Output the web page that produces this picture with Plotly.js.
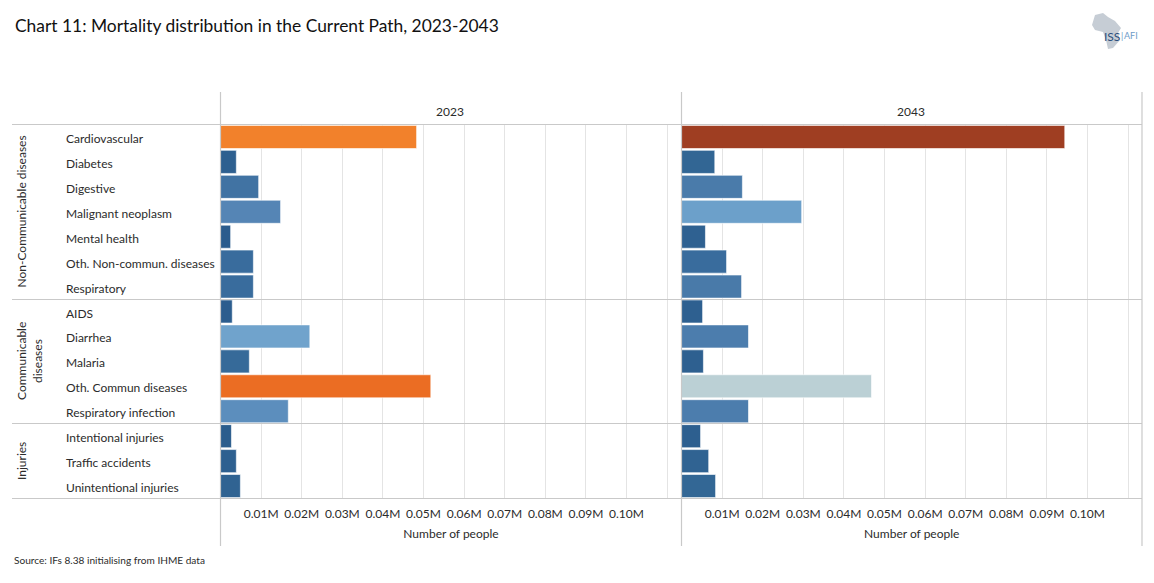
<!DOCTYPE html>
<html>
<head>
<meta charset="utf-8">
<script src="https://cdn.plot.ly/plotly-3.0.1.min.js"></script>
<style>html,body{margin:0;padding:0;background:#fff}#c{width:1154px;height:583px}</style>
</head>
<body>
<div id="c"></div>
<script>
const categories = ["Cardiovascular","Diabetes","Digestive","Malignant neoplasm","Mental health","Oth. Non-commun. diseases","Respiratory","AIDS","Diarrhea","Malaria","Oth. Commun diseases","Respiratory infection","Intentional injuries","Traffic accidents","Unintentional injuries"];
const values2023 = [0.0483,0.0039,0.0094,0.0148,0.0025,0.0081,0.0081,0.0029,0.0220,0.0071,0.0518,0.0167,0.0027,0.0039,0.0049];
const values2043 = [0.0944,0.0082,0.0150,0.0296,0.0059,0.0111,0.0148,0.0052,0.0165,0.0054,0.0468,0.0165,0.0047,0.0067,0.0084];
const tickValues = [0.01,0.02,0.03,0.04,0.05,0.06,0.07,0.08,0.09,0.10,0.11];
const tickLabels = ["0.01M","0.02M","0.03M","0.04M","0.05M","0.06M","0.07M","0.08M","0.09M","0.10M",""];
const panelYears = ["2023","2043"];
const shareStops = [0,0.012,0.028,0.04,0.052,0.058,0.072,0.081,0.105,0.162,0.2,0.233,0.25,0.326];
const stopColors = ["#2A5A8B","#2B5C8D","#326694","#3A6D9E","#4A7BAA","#4C7DAD","#5585B5","#5C8EBD","#6EA2CC","#BBD0D5","#F0B47C","#F2812B","#EB6D23","#9F3E22"];

const W = 1154, H = 583;
const FONT = "Lato, 'Open Sans', sans-serif";
const INK = "#2b2b2b", RULE = "#C9C9C9", GRID = "#E4E4E4";
const px = x => x / W, py = y => 1 - y / H;
const colorscale = shareStops.map((s, i) => [s / 0.326, stopColors[i]]);
const total = a => a.reduce((s, v) => s + v, 0);

function bars(vals, xa) {
  return {
    type: "bar", orientation: "h", x: vals, y: categories, xaxis: xa, yaxis: "y",
    width: 0.925,
    marker: { color: vals.map(v => v / total(vals)), colorscale, cmin: 0, cmax: 0.326, showscale: false,
              line: { color: "#fff", width: 0.6 } },
    hoverinfo: "x+y"
  };
}
function xAxis(d0, d1) {
  return {
    domain: [px(d0), px(d1)], range: [0, (d1 - d0) / 4060], anchor: "y",
    tickmode: "array", tickvals: tickValues, ticktext: tickLabels,
    ticks: "outside", ticklen: 4, tickcolor: "rgba(0,0,0,0)", showgrid: true, gridcolor: GRID, gridwidth: 1,
    zeroline: false, showline: false, tickfont: { family: FONT, size: 12, color: INK },
    title: { text: "Number of people", font: { family: FONT, size: 12, color: INK }, standoff: 9 }
  };
}
const hLines = [124.5, 299.5, 423.5, 498.5].map(y => ({ type: "line", xref: "paper", yref: "paper",
  x0: px(12), x1: px(1142), y0: py(y), y1: py(y), line: { color: RULE, width: 1.2 } }));
const vLines = [220.5, 681.5, 1142].map(x => ({ type: "line", xref: "paper", yref: "paper",
  x0: px(x), x1: px(x), y0: py(92), y1: py(546), line: { color: RULE, width: 1.2 } }));
const africa = [[1095,15],[1103,13],[1108,17],[1115,21],[1121,28],[1118,33],[1120,40],[1113,48],[1108,49],[1106,40],[1103,32],[1095,30],[1092,25]];
const logo = { type: "path", xref: "paper", yref: "paper", line: { width: 0 }, fillcolor: "#C6CDD5",
  path: africa.map((p, i) => (i ? "L" : "M") + px(p[0]) + "," + py(p[1])).join(" ") + " Z" };

const text = (t, x, y, size, opts = {}) => Object.assign({
  text: t, x: px(x), y: py(y), xref: "paper", yref: "paper", showarrow: false, xanchor: "left", yanchor: "middle",
  font: { family: FONT, size, color: INK }, borderpad: 0 }, opts);

const annotations = [
  text("Chart 11: Mortality distribution in the Current Path, 2023-2043", 14, 25.5, 17.4, { font: { family: FONT, size: 17.4, color: "#111" } }),
  text("Source: IFs 8.38 initialising from IHME data", 13, 559.5, 10.1),
  text(panelYears[0], 450, 111, 12, { xanchor: "center" }),
  text(panelYears[1], 911, 111, 12, { xanchor: "center" }),
  text("Non-Communicable diseases", 21, 211.5, 12, { textangle: -90, xanchor: "center" }),
  text("Communicable", 21, 361, 12, { textangle: -90, xanchor: "center" }),
  text("diseases", 37, 361, 12, { textangle: -90, xanchor: "center" }),
  text("Injuries", 21, 461, 12, { textangle: -90, xanchor: "center" }),
  text("ISS", 1102.5, 36.5, 12, { font: { family: FONT, size: 12, color: "#2C4F7C" } }),
  text("|", 1119.5, 35.5, 9, { font: { family: FONT, size: 9, color: "#6E9CC8" } }),
  text("AFI", 1122.5, 36, 9, { font: { family: FONT, size: 9, color: "#6E9CC8" } })
].concat(categories.map(c => ({
  text: c, x: px(63.5), y: c, xref: "paper", yref: "y", yshift: -1.5, showarrow: false, xanchor: "left", yanchor: "middle",
  font: { family: FONT, size: 12, color: INK }
})));

Plotly.newPlot("c", [bars(values2023, "x"), bars(values2043, "x2")], {
  width: W, height: H, margin: { l: 0, r: 0, t: 0, b: 0 }, paper_bgcolor: "#fff", plot_bgcolor: "#fff",
  showlegend: false, bargap: 0.075,
  xaxis: xAxis(220.5, 681.5), xaxis2: xAxis(681.5, 1142),
  yaxis: { domain: [py(498.5), py(124.5)], type: "category", autorange: false, range: [14.5, -0.5],
           categoryorder: "array", categoryarray: categories, showticklabels: false, ticks: "", showgrid: false, zeroline: false, showline: false },
  shapes: [logo].concat(hLines, vLines), annotations
}, { displayModeBar: false, staticPlot: true });
</script>
</body>
</html>
